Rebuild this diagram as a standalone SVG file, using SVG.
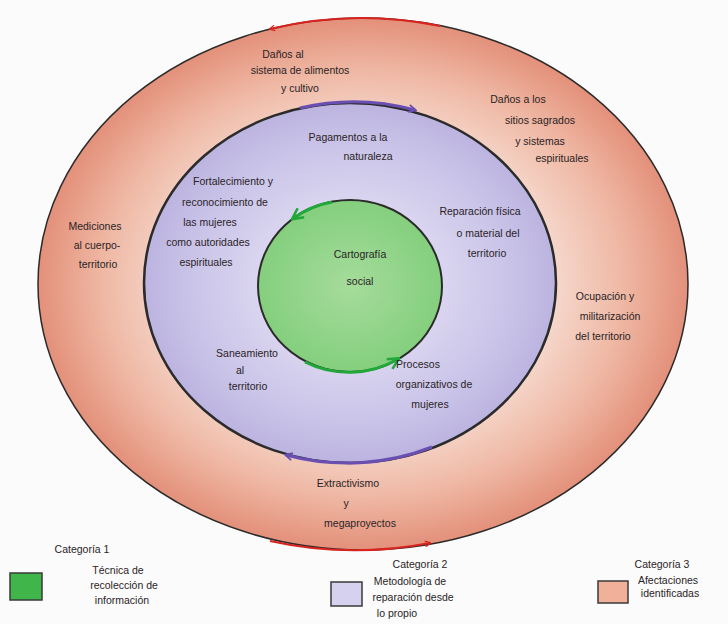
<svg xmlns="http://www.w3.org/2000/svg" width="728" height="624" viewBox="0 0 728 624">
<style>
text{font-family:"Liberation Sans","DejaVu Sans",sans-serif;font-size:10.5px;fill:#2a2326;text-anchor:middle}
.ring{stroke:#2b2b2b}
.red{stroke:#d8231f;stroke-width:2;fill:none}
.pur{stroke:#6a4fb3;stroke-width:3;fill:none}
.grn{stroke:#22a83a;stroke-width:3;fill:none}
.leg{stroke:#3a3a3a;stroke-width:1.5}
</style>
<defs>
<radialGradient id="gOuter" cx="0.5" cy="0.5" r="0.5">
<stop offset="0.6" stop-color="#f5d6ca"/>
<stop offset="0.8" stop-color="#efb8a4"/>
<stop offset="1" stop-color="#e3907a"/>
</radialGradient>
<radialGradient id="gMid" cx="0.5" cy="0.5" r="0.5">
<stop offset="0.4" stop-color="#dcd7f0"/>
<stop offset="0.75" stop-color="#cbc5e9"/>
<stop offset="1" stop-color="#bcb4e0"/>
</radialGradient>
<radialGradient id="gIn" cx="0.5" cy="0.5" r="0.5">
<stop offset="0" stop-color="#a6dc9b"/>
<stop offset="1" stop-color="#84cf7e"/>
</radialGradient>
<marker id="aRed" viewBox="0 0 10 10" refX="8" refY="5" markerWidth="7" markerHeight="7" orient="auto" markerUnits="userSpaceOnUse">
<path d="M1 1 L9 5 L1 9" fill="none" stroke="#d8231f" stroke-width="1.8"/>
</marker>
<marker id="aPur" viewBox="0 0 10 10" refX="8" refY="5" markerWidth="9" markerHeight="9" orient="auto" markerUnits="userSpaceOnUse">
<path d="M1 1 L9 5 L1 9" fill="none" stroke="#6a4fb3" stroke-width="2"/>
</marker>
<marker id="aGrn" viewBox="0 0 10 10" refX="8" refY="5" markerWidth="14" markerHeight="14" orient="auto" markerUnits="userSpaceOnUse">
<path d="M1 1 L9 5 L1 9" fill="none" stroke="#22a83a" stroke-width="1.8"/>
</marker>
</defs>
<rect width="728" height="624" fill="#fbfbfb"/>
<g id="outer-ring">
<ellipse cx="363" cy="284" rx="325" ry="266" fill="url(#gOuter)" class="ring" stroke-width="1.5"/>
</g>
<g id="middle-ring">
<ellipse cx="350" cy="283" rx="206" ry="180" fill="url(#gMid)" class="ring" stroke-width="2.5"/>
</g>
<g id="inner-circle">
<ellipse cx="350" cy="286" rx="92" ry="86" fill="url(#gIn)" class="ring" stroke-width="2"/>
</g>
<g id="connectors">
<path class="red" d="M 440 26 A 325 266 0 0 0 270 29" marker-end="url(#aRed)"/>
<path class="red" d="M 270 541 A 325 266 0 0 0 430 543" marker-end="url(#aRed)"/>
<path class="pur" d="M 300 108 A 206 180 0 0 1 415 110" marker-end="url(#aPur)"/>
<path class="pur" d="M 432 447 A 206 180 0 0 1 286 455" marker-end="url(#aPur)"/>
<path class="grn" d="M 332 202 A 92 86 0 0 0 293 218.5" marker-end="url(#aGrn)"/>
<path class="grn" d="M 305 362 A 92 86 0 0 0 398 359" marker-end="url(#aGrn)"/>
</g>
<g id="n-danos-alimentos">
<text x="283" y="58">Daños al</text>
<text x="300" y="74">sistema de alimentos</text>
<text x="300" y="92">y cultivo</text>
</g>
<g id="n-danos-sitios">
<text x="518" y="103">Daños a los</text>
<text x="540" y="124">sitios sagrados</text>
<text x="540" y="145">y sistemas</text>
<text x="562" y="162">espirituales</text>
</g>
<g id="n-violaciones">
<text x="95" y="230">Mediciones</text>
<text x="97" y="249">al cuerpo-</text>
<text x="98" y="268">territorio</text>
</g>
<g id="n-ocupacion">
<text x="605" y="300">Ocupación y</text>
<text x="610" y="320">militarización</text>
<text x="603" y="340">del territorio</text>
</g>
<g id="n-extractivismo">
<text x="348" y="487" font-size="12">Extractivismo</text>
<text x="346" y="507" font-size="12">y</text>
<text x="360" y="527" font-size="12">megaproyectos</text>
</g>
<g id="n-pagamentos">
<text x="348" y="141">Pagamentos a la</text>
<text x="368" y="160">naturaleza</text>
</g>
<g id="n-fortalecimiento">
<text x="233" y="185">Fortalecimiento y</text>
<text x="225" y="206">reconocimiento de</text>
<text x="210" y="226">las mujeres</text>
<text x="208" y="246">como autoridades</text>
<text x="206" y="266">espirituales</text>
</g>
<g id="n-reparacion">
<text x="480" y="215">Reparación física</text>
<text x="488" y="237">o material del</text>
<text x="487" y="257">territorio</text>
</g>
<g id="n-saneamiento">
<text x="247" y="357">Saneamiento</text>
<text x="240" y="374">al</text>
<text x="248" y="390">territorio</text>
</g>
<g id="n-procesos">
<text x="418" y="368">Procesos</text>
<text x="434" y="388">organizativos de</text>
<text x="430" y="408">mujeres</text>
</g>
<g id="n-cartografia">
<text x="360" y="258">Cartografía</text>
<text x="360" y="285">social</text>
</g>
<g id="legend-1">
<rect x="10" y="573" width="32" height="27" fill="#3fb54a" class="leg"/>
<text x="82" y="553">Categoría 1</text>
<text x="118" y="574">Técnica de</text>
<text x="124" y="589">recolección de</text>
<text x="122" y="604">información</text>
</g>
<g id="legend-2">
<rect x="331" y="582" width="31" height="24" fill="#d6d1ee" class="leg"/>
<text x="420" y="568">Categoría 2</text>
<text x="410" y="585">Metodología de</text>
<text x="413" y="601">reparación desde</text>
<text x="397" y="617">lo propio</text>
</g>
<g id="legend-3">
<rect x="598" y="581" width="30" height="22" fill="#f0b09a" class="leg"/>
<text x="662" y="568">Categoría 3</text>
<text x="668" y="584">Afectaciones</text>
<text x="670" y="597">identificadas</text>
</g>
</svg>
